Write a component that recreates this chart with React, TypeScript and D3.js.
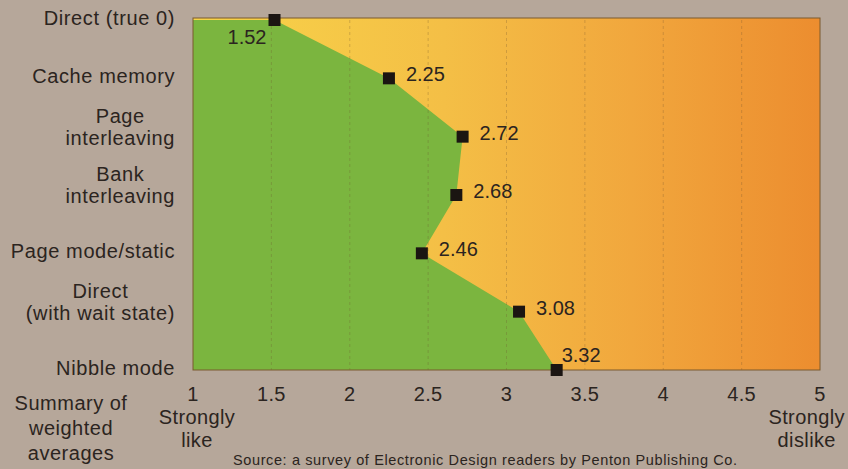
import React from "react";
import * as d3 from "d3";

// ---- data ----
const categories = [
  "Direct (true 0)",
  "Cache memory",
  "Page\ninterleaving",
  "Bank\ninterleaving",
  "Page mode/static",
  "Direct\n(with wait state)",
  "Nibble mode",
];
const averages = [1.52, 2.25, 2.72, 2.68, 2.46, 3.08, 3.32];
const xTicks = [1, 1.5, 2, 2.5, 3, 3.5, 4, 4.5, 5];
const gridValues = [1.5, 2, 2.5, 3, 3.5, 4, 4.5];
const endLabelValues = [1, 5];
const endLabelLines = [["Strongly", "like"], ["Strongly", "dislike"]];
const axisTitleLines = ["Summary of", "weighted", "averages"];
const sourceText = "Source: a survey of Electronic Design readers by Penton Publishing Co.";

// ---- layout ----
const W = 848;
const H = 469;
const plot = { left: 193, right: 820, top: 18, bottom: 370 };
const FONT = "'Liberation Sans', Arial, Helvetica, sans-serif";
const textColor = "#2b2420";

let ctx: CanvasRenderingContext2D | null = null;
function measure(t: string, size: number, spacing: number) {
  if (!ctx) ctx = document.createElement("canvas").getContext("2d");
  if (!ctx) return t.length * size * 0.55;
  ctx.font = `${size}px ${FONT}`;
  return ctx.measureText(t).width + spacing * t.length;
}

export default function App() {
  const x = d3.scaleLinear().domain([1, 5]).range([plot.left, plot.right]);
  const y = d3
    .scalePoint<string>()
    .domain(categories)
    .range([plot.top + 2, plot.bottom]);

  const pts: [number, number][] = averages.map((v, i) => [x(v), y(categories[i]) as number]);
  const area = d3.line()([
    [plot.left, plot.top + 2],
    ...pts,
    [plot.left, plot.bottom],
  ]) + "Z";

  const catSize = 20;
  const catSpacing = 0.6;
  const labelRight = 175;

  return (
    <svg
      width={W}
      height={H}
      style={{ position: "absolute", left: 0, top: 0, display: "block" }}
      fontFamily={FONT}
    >
      <defs>
        <linearGradient id="warm" x1="0" x2="1" y1="0" y2="0">
          <stop offset="0%" stopColor="#f8d449" />
          <stop offset="40%" stopColor="#f4bf46" />
          <stop offset="70%" stopColor="#f1a73d" />
          <stop offset="100%" stopColor="#ec8d2f" />
        </linearGradient>
      </defs>
      <rect x={0} y={0} width={W} height={H} fill="#b6a79a" />

      {/* plot background */}
      <rect
        x={plot.left}
        y={plot.top}
        width={plot.right - plot.left}
        height={plot.bottom - plot.top}
        fill="url(#warm)"
      />
      {/* green area */}
      <path d={area} fill="#7bb53f" />

      {/* dashed gridlines */}
      {gridValues.map((g) => (
        <line
          key={g}
          x1={x(g)}
          x2={x(g)}
          y1={plot.top + 2}
          y2={plot.bottom}
          stroke="#6e5230"
          strokeOpacity={0.35}
          strokeWidth={0.8}
          strokeDasharray="3,3"
        />
      ))}

      {/* border */}
      <rect
        x={plot.left}
        y={plot.top}
        width={plot.right - plot.left}
        height={plot.bottom - plot.top}
        fill="none"
        stroke="#7a5a2e"
        strokeWidth={1}
      />

      {/* markers */}
      {pts.map(([px, py], i) => (
        <rect key={i} x={px - 6} y={py - 6} width={12} height={12} fill="#1b1512" />
      ))}

      {/* value labels */}
      {pts.map(([px, py], i) => {
        const last = i === pts.length - 1;
        const first = i === 0;
        const tx = first ? px - 8 : last ? px + 5 : px + 17;
        const ty = first ? py + 24 : last ? py - 8 : py + 3;
        return (
          <text
            key={i}
            x={tx}
            y={ty}
            fontSize={20}
            fill={textColor}
            textAnchor={first ? "end" : "start"}
          >
            {averages[i].toFixed(2)}
          </text>
        );
      })}

      {/* category labels */}
      {categories.map((c) => {
        const lines = c.split("\n");
        const cy = y(c) as number;
        if (lines.length === 1) {
          return (
            <text
              key={c}
              x={labelRight}
              y={cy + 5}
              fontSize={catSize}
              letterSpacing={catSpacing}
              textAnchor="end"
              fill={textColor}
            >
              {c}
            </text>
          );
        }
        const maxW = Math.max(...lines.map((l) => measure(l, catSize, catSpacing)));
        const cx = labelRight - maxW / 2;
        return (
          <text
            key={c}
            fontSize={catSize}
            letterSpacing={catSpacing}
            textAnchor="middle"
            fill={textColor}
          >
            {lines.map((l, j) => (
              <tspan key={j} x={cx} y={cy - 14 + j * 22}>
                {l}
              </tspan>
            ))}
          </text>
        );
      })}

      {/* x tick labels */}
      {xTicks.map((t) => (
        <text
          key={t}
          x={x(t)}
          y={401}
          fontSize={20}
          letterSpacing={0.3}
          textAnchor="middle"
          fill={textColor}
        >
          {d3.format("")(t)}
        </text>
      ))}

      {/* end labels */}
      {endLabelValues.map((v, i) => {
        const lines = endLabelLines[i];
        const maxW = Math.max(...lines.map((l) => measure(l, 20, 0.4)));
        const cx = Math.min(Math.max(x(v) + 4, maxW / 2 + 3), W - maxW / 2 - 3);
        return (
          <text key={v} fontSize={20} letterSpacing={0.4} textAnchor="middle" fill={textColor}>
            {lines.map((l, j) => (
              <tspan key={j} x={cx} y={424 + j * 23}>
                {l}
              </tspan>
            ))}
          </text>
        );
      })}

      {/* axis title */}
      <text fontSize={20} letterSpacing={0.5} textAnchor="middle" fill={textColor}>
        {axisTitleLines.map((l, j) => (
          <tspan key={j} x={71} y={410 + j * 25}>
            {l}
          </tspan>
        ))}
      </text>

      {/* source */}
      <text
        x={233}
        y={465}
        fontSize={14.5}
        fill={textColor}
        textLength={504}
        lengthAdjust="spacing"
      >
        {sourceText}
      </text>
    </svg>
  );
}
